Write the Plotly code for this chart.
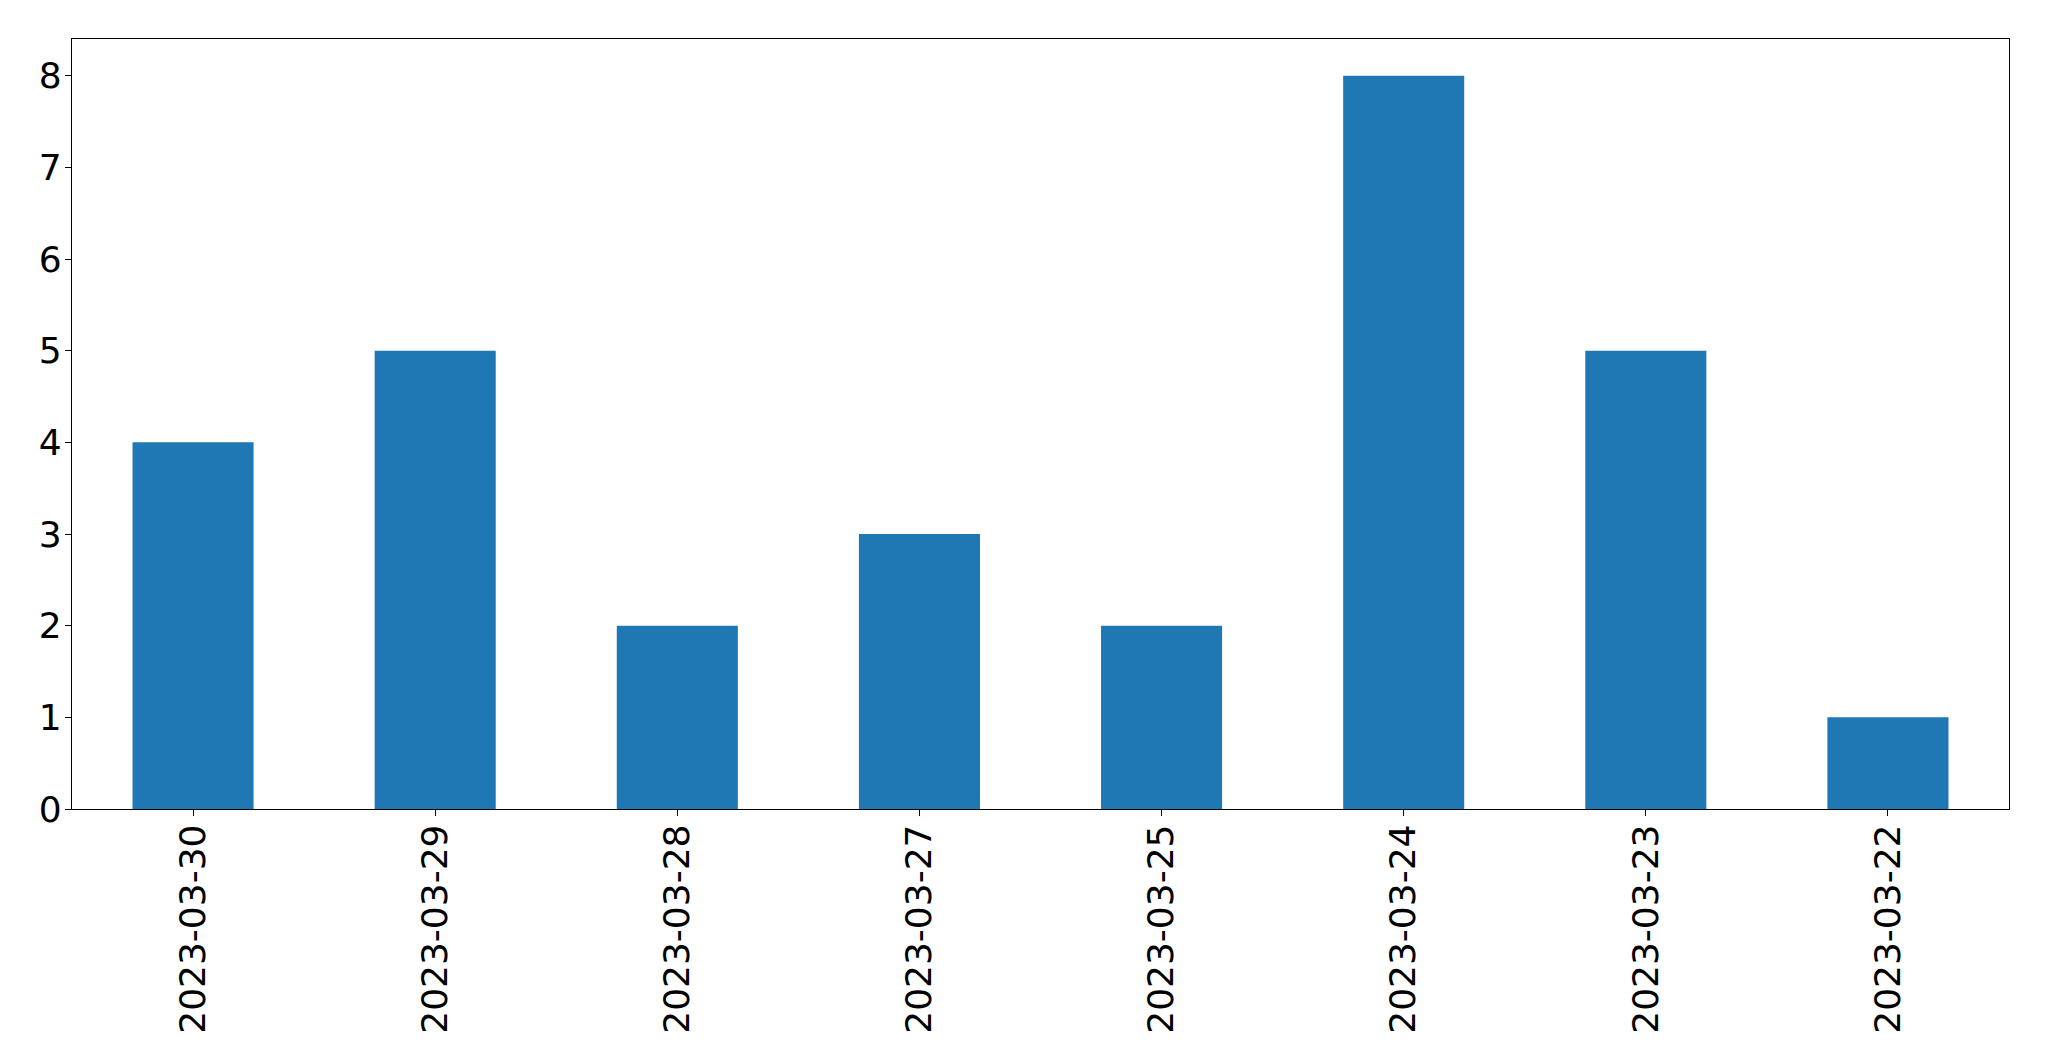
import plotly.graph_objects as go

dates = ["2023-03-30", "2023-03-29", "2023-03-28", "2023-03-27",
         "2023-03-25", "2023-03-24", "2023-03-23", "2023-03-22"]
counts = [4, 5, 2, 3, 2, 8, 5, 1]

fig = go.Figure(go.Bar(x=dates, y=counts, width=0.5,
                       marker=dict(color="#1f77b4", line=dict(width=0))))

# page body has an 8px default margin, compensate in figure margins
fig.update_layout(
    width=2049, height=1061,
    margin=dict(l=64, r=48, t=31, b=260),
    paper_bgcolor="white", plot_bgcolor="white",
    font=dict(family="DejaVu Sans", size=36, color="black"),
    showlegend=False,
)
fig.update_xaxes(type="category", range=[-0.5, 7.5], tickangle=-90,
                 automargin=False, ticklabelstandoff=-6,
                 showline=True, linecolor="black", linewidth=1.3, mirror=True,
                 ticks="outside", ticklen=6, tickwidth=1.3, tickcolor="black",
                 showgrid=False, zeroline=False)
fig.update_yaxes(range=[0, 8.4], tickvals=[0, 1, 2, 3, 4, 5, 6, 7, 8],
                 automargin=False, ticklabelstandoff=-4,
                 showline=True, linecolor="black", linewidth=1.3, mirror=True,
                 ticks="outside", ticklen=6, tickwidth=1.3, tickcolor="black",
                 showgrid=False, zeroline=False)

fig.write_html("out.html")
